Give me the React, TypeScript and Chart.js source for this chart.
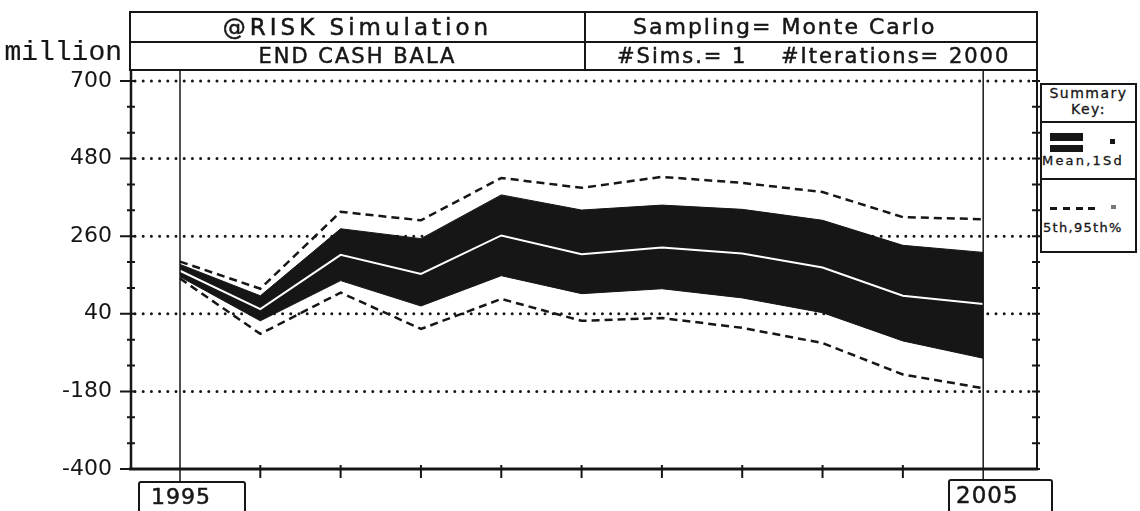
import React, { useEffect, useRef } from "react";
import { Chart, registerables } from "chart.js";

Chart.register(...registerables);

// ---- data (million) ----
const years = [1995, 1996, 1997, 1998, 1999, 2000, 2001, 2002, 2003, 2004, 2005];
const meanValues = [162, 53, 207, 153, 262, 209, 228, 211, 171, 91, 68];
const upper1Sd = [180, 91, 281, 253, 377, 334, 348, 336, 305, 234, 214];
const lower1Sd = [145, 20, 134, 62, 148, 97, 111, 85, 43, -37, -86];
const pct95 = [188, 111, 329, 305, 425, 397, 428, 411, 385, 314, 308];
const pct5 = [140, -17, 100, -3, 82, 20, 28, 0, -43, -132, -171];

const yMajorTicks = [-400, -180, 40, 260, 480, 700];
const yMinorPerMajor = 3;
const xMin = 1994.39;
const xMax = 2005.67;
const yMin = -400;
const yMax = 731;
const markedYears = [1995, 2005];

const INK = "#161616";

const pts = (vals: number[]) => vals.map((v, i) => ({ x: years[i], y: v }));

const drawPlugin = {
  id: "riskDecor",
  beforeDatasetsDraw(chart: any) {
    const { ctx, chartArea, scales } = chart;
    const { left, right } = chartArea;
    ctx.save();
    ctx.strokeStyle = INK;
    ctx.lineWidth = 3;
    ctx.lineCap = "round";
    ctx.setLineDash([0, 8.2]);
    yMajorTicks.forEach((v) => {
      if (v === yMin) return;
      const y = scales.y.getPixelForValue(v);
      ctx.beginPath();
      ctx.moveTo(left + 4, y);
      ctx.lineTo(right, y);
      ctx.stroke();
    });
    ctx.restore();
  },
  afterDatasetsDraw(chart: any) {
    const { ctx, chartArea, scales } = chart;
    const { left, right, top, bottom } = chartArea;
    ctx.save();
    ctx.strokeStyle = INK;
    ctx.setLineDash([]);
    // year marker lines
    ctx.lineWidth = 1.5;
    markedYears.forEach((yr) => {
      const x = scales.x.getPixelForValue(yr);
      ctx.beginPath();
      ctx.moveTo(x, top);
      ctx.lineTo(x, bottom + 12);
      ctx.stroke();
    });
    // axes
    ctx.lineWidth = 2.5;
    ctx.beginPath();
    ctx.moveTo(left, top);
    ctx.lineTo(left, bottom);
    ctx.stroke();
    ctx.lineWidth = 3;
    ctx.beginPath();
    ctx.moveTo(left - 2, bottom);
    ctx.lineTo(right + 1, bottom);
    ctx.stroke();
    ctx.lineWidth = 2;
    ctx.beginPath();
    ctx.moveTo(right, top);
    ctx.lineTo(right, bottom);
    ctx.stroke();
    // y ticks (crosses)
    const step = (yMajorTicks[1] - yMajorTicks[0]) / yMinorPerMajor;
    ctx.lineWidth = 2;
    for (let v = yMin; v <= yMajorTicks[yMajorTicks.length - 1] + 0.01; v += step) {
      const y = scales.y.getPixelForValue(v);
      const major = yMajorTicks.some((m) => Math.abs(m - v) < 0.5);
      ctx.beginPath();
      ctx.moveTo(left - (major ? 11 : 4), y);
      ctx.lineTo(left + 4, y);
      ctx.moveTo(right - 5, y);
      ctx.lineTo(right + 3, y);
      ctx.stroke();
    }
    // x ticks
    years.forEach((yr) => {
      if (markedYears.includes(yr)) return;
      const x = scales.x.getPixelForValue(yr);
      ctx.beginPath();
      ctx.moveTo(x, bottom - 4);
      ctx.lineTo(x, bottom + 9);
      ctx.stroke();
    });
    ctx.restore();
  },
};

function TextAt(props: {
  left: number;
  top: number;
  width?: number;
  height: number;
  text: string;
  size: number;
  spacing?: number;
  align?: "left" | "center" | "right";
  family?: string;
  stroke?: number;
}) {
  const { left, top, width, height, text, size, spacing = 0, align = "left", family, stroke = 0.5 } = props;
  return (
    <div
      style={{
        position: "absolute",
        left,
        top,
        width,
        height,
        display: "flex",
        alignItems: "center",
        justifyContent: align === "center" ? "center" : align === "right" ? "flex-end" : "flex-start",
        fontFamily: family || "'DejaVu Sans', sans-serif",
        fontSize: size,
        letterSpacing: spacing,
        whiteSpace: "pre",
        color: INK,
        lineHeight: 1,
        WebkitTextStroke: `${stroke}px ${INK}`,
      }}
    >
      {text}
    </div>
  );
}

const line = (left: number, top: number, width: number, height: number, color: string = INK) => (
  <div style={{ position: "absolute", left, top, width, height, background: color }} />
);

const legendDashes = [1050, 1063, 1076, 1088];

export default function App() {
  const canvasRef = useRef<HTMLCanvasElement | null>(null);

  useEffect(() => {
    const canvas = canvasRef.current;
    if (!canvas) return;
    const band = { borderColor: INK, backgroundColor: INK, borderWidth: 1, pointRadius: 0, tension: 0 };
    const chart = new Chart(canvas, {
      type: "line",
      data: {
        datasets: [
          { label: "Mean", data: pts(meanValues), borderColor: "#ffffff", borderWidth: 2, pointRadius: 0, fill: false, tension: 0 },
          { label: "95th", data: pts(pct95), borderColor: INK, borderWidth: 2.5, borderDash: [8, 5], pointRadius: 0, fill: false, tension: 0 },
          { label: "5th", data: pts(pct5), borderColor: INK, borderWidth: 2.5, borderDash: [8, 5], pointRadius: 0, fill: false, tension: 0 },
          { label: "+1Sd", data: pts(upper1Sd), ...band, fill: "+1" },
          { label: "-1Sd", data: pts(lower1Sd), ...band, fill: false },
        ] as any,
      },
      options: {
        animation: false,
        responsive: false,
        events: [],
        layout: { padding: { top: 70, right: 103, left: 0, bottom: 0 } },
        plugins: { legend: { display: false }, tooltip: { enabled: false } },
        scales: {
          x: {
            type: "linear",
            min: xMin,
            max: xMax,
            grid: { display: false },
            border: { display: false },
            ticks: { display: false },
            afterFit: (s: any) => {
              s.height = 42;
            },
          },
          y: {
            type: "linear",
            min: yMin,
            max: yMax,
            grid: { display: false, drawTicks: false },
            border: { display: false },
            afterBuildTicks: (s: any) => {
              s.ticks = yMajorTicks.map((v) => ({ value: v }));
            },
            ticks: {
              autoSkip: false,
              padding: 19,
              color: INK,
              font: { family: "'DejaVu Sans', sans-serif", size: 22 },
              callback: (v: any) => String(v),
            },
            afterFit: (s: any) => {
              s.width = 131;
            },
          },
        },
      } as any,
      plugins: [drawPlugin],
    });
    return () => chart.destroy();
  }, []);

  return (
    <div style={{ position: "absolute", left: 0, top: 0, width: 1140, height: 511, background: "#ffffff", overflow: "hidden" }}>
      <canvas ref={canvasRef} width={1140} height={511} style={{ position: "absolute", left: 0, top: 0 }} />

      {/* header box */}
      <div style={{ position: "absolute", left: 129, top: 11, width: 909, height: 60, border: `2px solid ${INK}`, boxSizing: "border-box" }} />
      {line(129, 41, 909, 2)}
      {line(584, 11, 2, 60)}
      <TextAt left={131} top={13} width={453} height={28} text="@RISK Simulation" size={23} spacing={4} align="center" />
      <TextAt left={633} top={13} height={28} text="Sampling= Monte Carlo" size={22} spacing={2} />
      <TextAt left={131} top={43} width={453} height={26} text="END CASH BALA" size={21} spacing={2} align="center" />
      <TextAt left={617} top={43} height={26} text="#Sims.= 1" size={21} spacing={2} />
      <TextAt left={781} top={43} height={26} text="#Iterations= 2000" size={21} spacing={2} />

      {/* unit */}
      <TextAt left={0} top={39} width={122} height={28} text="million" size={28} align="right" family="'Liberation Mono', monospace" stroke={0.2} />

      {/* year boxes */}
      <div style={{ position: "absolute", left: 138, top: 481, width: 108, height: 40, border: `2px solid ${INK}`, borderRadius: 3, boxSizing: "border-box" }} />
      <TextAt left={151} top={485} height={24} text="1995" size={22} spacing={1} />
      <div style={{ position: "absolute", left: 948, top: 479, width: 105, height: 40, border: `2px solid ${INK}`, borderRadius: 3, boxSizing: "border-box" }} />
      <TextAt left={956} top={483} height={24} text="2005" size={23} spacing={1} />

      {/* summary key */}
      <div style={{ position: "absolute", left: 1040, top: 83, width: 97, height: 170, border: `2px solid ${INK}`, boxSizing: "border-box", background: "#fff" }} />
      {line(1040, 121, 97, 2)}
      {line(1040, 178, 97, 2)}
      <TextAt left={1042} top={84} width={93} height={17} text="Summary" size={14} spacing={1.5} align="center" stroke={0.3} />
      <TextAt left={1042} top={100} width={93} height={17} text="Key:" size={14} spacing={1.5} align="center" stroke={0.3} />
      {line(1050, 133, 33, 8)}
      {line(1050, 145, 33, 7)}
      {line(1110, 139, 5, 5)}
      <TextAt left={1042} top={152} height={17} text="Mean,1Sd" size={13} spacing={2.2} stroke={0.3} />
      {legendDashes.map((x) => (
        <React.Fragment key={x}>{line(x, 207, 7, 3)}</React.Fragment>
      ))}
      {line(1111, 205, 5, 4, "#777")}
      <TextAt left={1043} top={219} height={17} text="5th,95th%" size={13} spacing={1.3} stroke={0.3} />
    </div>
  );
}
